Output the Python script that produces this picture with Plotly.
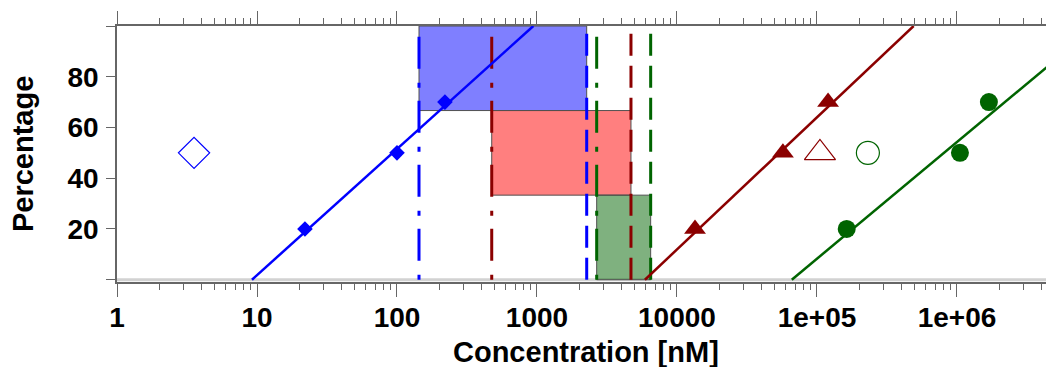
import numpy as np
import plotly.graph_objects as go

# ---------------- data ----------------
blue_x = [22, 100, 220]
blue_y = [20, 50, 70]
blue_open_x = [3.55]
blue_open_y = [50]

red_x = [13450, 57100, 120000]
red_y = [20, 50, 70]
red_open_x = [105000]
red_open_y = [50]

green_x = [163000, 1.05e6, 1.69e6]
green_y = [20, 50, 70]
green_open_x = [231000]
green_open_y = [50]

# fitted lines: log10(conc) where percentage = 0, and slope (percent per decade)
blue_fit = [0.964, 49.75]
red_fit = [3.771, 52.1]
green_fit = [4.82, 46.0]

# concentration windows (low, high) and percentage bands
blue_window = [143.6, 2265]
red_window = [475, 4691]
green_window = [2669, 6487]
blue_band = [66.67, 100]
red_band = [33.33, 66.67]
green_band = [0, 33.33]

x_tickvals = [1, 10, 100, 1000, 10000, 1e5, 1e6]
x_ticktext = ["1", "10", "100", "1000", "10000", "1e+05", "1e+06"]
y_tickvals = [0, 20, 40, 60, 80, 100]
y_ticktext = ["", "20", "40", "60", "80", ""]

BLUE = "#0000ff"
RED = "#8b0000"
GREEN = "#006400"
AXIS = "#666666"
FONT = "Liberation Sans"

fig = go.Figure()


def fit_line(p):
    x0 = 10 ** p[0]
    x1 = 10 ** (p[0] + 100.0 / p[1])
    return [x0, x1], [0, 100]


shapes = []
shapes.append(dict(type="line", xref="paper", yref="y", x0=0, x1=1, y0=0, y1=0,
                   line=dict(color="#d2d2d2", width=3), layer="below"))
for win, band, fill in [(blue_window, blue_band, "rgba(0,0,255,0.5)"),
                        (red_window, red_band, "rgba(255,0,0,0.5)"),
                        (green_window, green_band, "rgba(0,100,0,0.5)")]:
    shapes.append(dict(type="rect", xref="x", yref="y", x0=win[0], x1=win[1],
                       y0=band[0], y1=band[1], fillcolor=fill,
                       line=dict(color="#505050", width=1), layer="below"))
fig.update_layout(shapes=shapes)

for win, col in [(blue_window, BLUE), (red_window, RED), (green_window, GREEN)]:
    fig.add_trace(go.Scatter(x=[win[0], win[0]], y=[0, 100], mode="lines",
                             line=dict(color=col, width=3, dash="5px,14px,32px,13px"),
                             hoverinfo="skip"))
    fig.add_trace(go.Scatter(x=[win[1], win[1]], y=[0, 100], mode="lines",
                             line=dict(color=col, width=3, dash="22px,10px"),
                             hoverinfo="skip"))

for p, col in [(blue_fit, BLUE), (red_fit, RED), (green_fit, GREEN)]:
    fx, fy = fit_line(p)
    fig.add_trace(go.Scatter(x=fx, y=fy, mode="lines",
                             line=dict(color=col, width=2.5), hoverinfo="skip"))

fig.add_trace(go.Scatter(x=blue_x, y=blue_y, mode="markers",
                         marker=dict(symbol="diamond", size=12, color=BLUE, line=dict(width=0))))
fig.add_trace(go.Scatter(x=blue_open_x, y=blue_open_y, mode="markers",
                         marker=dict(symbol="diamond-open", size=24, color=BLUE, line=dict(width=1.2))))
fig.add_trace(go.Scatter(x=red_x, y=red_y, mode="markers",
                         marker=dict(symbol="triangle-up", size=19, color=RED, line=dict(width=0))))
fig.add_trace(go.Scatter(x=red_open_x, y=red_open_y, mode="markers",
                         marker=dict(symbol="triangle-up-open", size=27, color=RED, line=dict(width=1.2))))
fig.add_trace(go.Scatter(x=green_x, y=green_y, mode="markers",
                         marker=dict(symbol="circle", size=18, color=GREEN, line=dict(width=0))))
fig.add_trace(go.Scatter(x=green_open_x, y=green_open_y, mode="markers",
                         marker=dict(symbol="circle-open", size=23, color=GREEN, line=dict(width=1.2))))

minor_vals = [m * 10 ** d for d in range(0, 7) for m in range(2, 10)]

# the page body has an 8px margin, so the figure is sized/margined to compensate
fig.update_layout(
    width=1046, height=359,
    margin=dict(l=109, r=0, t=18, b=85),
    paper_bgcolor="white", plot_bgcolor="white",
    showlegend=False,
    font=dict(family=FONT, color="black"),
    xaxis=dict(
        type="log", range=[0, 6.693], automargin=False,
        tickvals=x_tickvals, ticktext=x_ticktext,
        ticks="outside", ticklen=13, tickwidth=1.3, tickcolor=AXIS,
        showline=True, linecolor=AXIS, linewidth=1.5, mirror="allticks",
        showgrid=False, zeroline=False,
        tickfont=dict(size=28, family=FONT, weight="bold", color="black"),
        ticklabelstandoff=-3,
        minor=dict(tickvals=minor_vals, ticks="outside", ticklen=6,
                   tickcolor=AXIS, tickwidth=1.3, showgrid=False),
    ),
    yaxis=dict(
        range=[-0.9, 100], automargin=False,
        tickvals=y_tickvals, ticktext=y_ticktext,
        ticks="outside", ticklen=9, tickwidth=1.3, tickcolor=AXIS,
        showline=True, linecolor=AXIS, linewidth=1.5,
        showgrid=False, zeroline=False,
        tickfont=dict(size=28, family=FONT, weight="bold", color="black"),
        ticklabelstandoff=2,
    ),
    annotations=[
        dict(text="Concentration [nM]", xref="paper", yref="paper",
             x=0.5, y=-0.273, xanchor="center", yanchor="middle", showarrow=False,
             font=dict(size=29, family=FONT, weight="bold", color="black")),
        dict(text="Percentage", xref="paper", yref="paper", textangle=-90,
             x=-0.1003, y=0.5, xanchor="center", yanchor="middle", showarrow=False,
             font=dict(size=29, family=FONT, weight="bold", color="black")),
    ],
)

fig.write_html("out.html")
